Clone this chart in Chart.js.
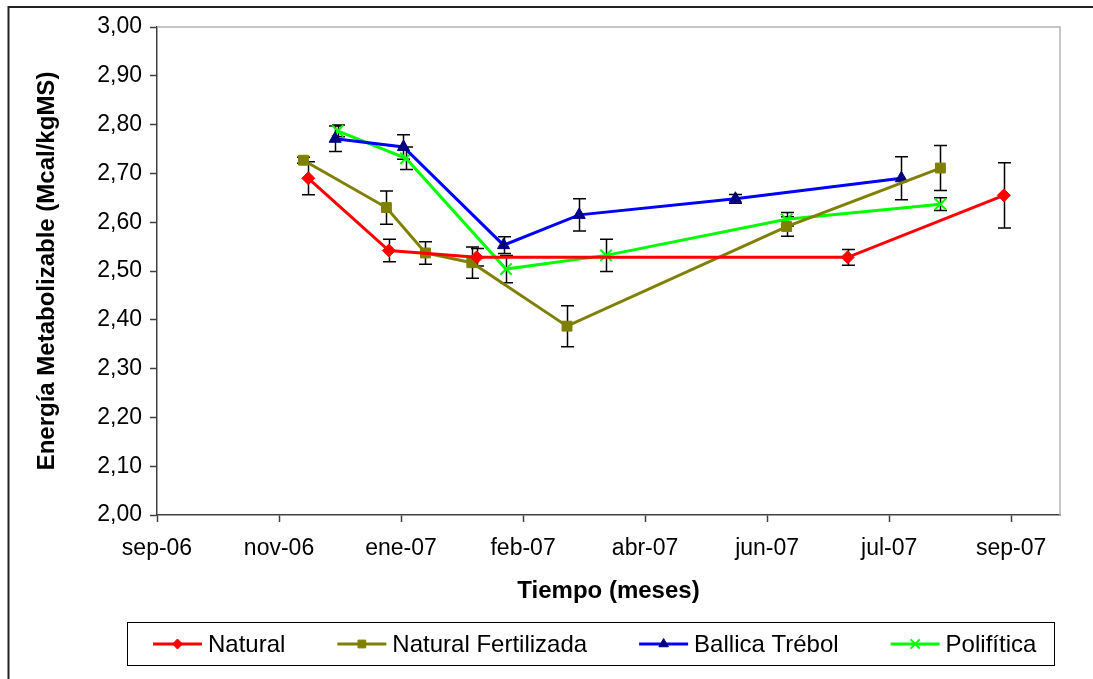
<!DOCTYPE html>
<html lang="es">
<head>
<meta charset="utf-8">
<title>Energía Metabolizable</title>
<script src="https://cdn.jsdelivr.net/npm/chart.js@4/dist/chart.umd.min.js"></script>
<style>
  html, body { margin: 0; padding: 0; background: #fff; }
  #wrap { width: 1093px; height: 679px; position: relative; }
</style>
</head>
<body>
<div id="wrap"><canvas id="grafico" width="1093" height="679"></canvas></div>
<script>
// ── Datos ─────────────────────────────────────
// eje X: días desde el inicio del eje (paso de 50 días)
const tickDias   = [0, 50, 100, 150, 200, 250, 300, 350];
const tickLabels = ['sep-06', 'nov-06', 'ene-07', 'feb-07', 'abr-07', 'jun-07', 'jul-07', 'sep-07'];

const naturalDias = [62, 95, 131, 283, 347];
const naturalEM   = [2.690, 2.542, 2.528, 2.528, 2.655];
const naturalErr  = [0.034, 0.023, 0.018, 0.016, 0.067];

const fertDias = [60, 94, 110, 129, 168, 258, 321];
const fertEM   = [2.727, 2.630, 2.537, 2.517, 2.387, 2.591, 2.711];
const fertErr  = [0.006, 0.034, 0.023, 0.032, 0.042, 0.020, 0.046];

const ballicaDias = [73, 101, 142, 173, 237, 305];
const ballicaEM   = [2.771, 2.754, 2.553, 2.615, 2.648, 2.690];
const ballicaErr  = [0.026, 0.025, 0.017, 0.033, 0.009, 0.044];

const poliDias = [74, 102, 143, 184, 258, 321];
const poliEM   = [2.787, 2.731, 2.504, 2.532, 2.606, 2.637];
const poliErr  = [0.012, 0.023, 0.028, 0.033, 0.014, 0.013];

const FONT = "'Liberation Sans', Arial, sans-serif";

function puntos(dias, vals, errs) {
    return dias.map((d, i) => ({ x: d, y: vals[i], err: errs[i] }));
}

function serie(label, data, color, pointColor, pointStyle, radius) {
    return {
        label, data,
        borderColor: color, backgroundColor: pointColor,
        borderWidth: 3, tension: 0,
        pointStyle, pointRadius: radius, pointHoverRadius: radius,
        pointBackgroundColor: pointColor, pointBorderColor: pointColor,
        pointBorderWidth: pointStyle === 'crossRot' ? 2 : 1
    };
}

const datasets = [
    serie('Natural',             puntos(naturalDias, naturalEM, naturalErr), '#ff0000', '#ff0000', 'rectRot', 6.5),
    serie('Natural Fertilizada', puntos(fertDias, fertEM, fertErr),          '#808000', '#808000', 'rect', 7),
    serie('Ballica Trébol',      puntos(ballicaDias, ballicaEM, ballicaErr), '#0000ff', '#000080', 'triangle', 7),
    serie('Polifítica',          puntos(poliDias, poliEM, poliErr),          '#00ff00', '#00ff00', 'crossRot', 8)
];

// ── Plugins ───────────────────────────────────
const fondo = {
    id: 'fondo',
    beforeDraw(chart) {
        const { ctx, width, height } = chart;
        ctx.save();
        ctx.fillStyle = '#fff';
        ctx.fillRect(0, 0, width, height);
        ctx.restore();
    }
};

const barrasError = {
    id: 'barrasError',
    beforeDatasetsDraw(chart) {
        const { ctx, scales: { x, y } } = chart;
        ctx.save();
        ctx.strokeStyle = '#000';
        ctx.lineWidth = 1.5;
        chart.data.datasets.forEach(ds => {
            ds.data.forEach(p => {
                const px  = Math.round(x.getPixelForValue(p.x)) + 0.5;
                const top = y.getPixelForValue(p.y + p.err);
                const bot = y.getPixelForValue(p.y - p.err);
                ctx.beginPath();
                ctx.moveTo(px, top); ctx.lineTo(px, bot);
                ctx.moveTo(px - 6.5, top); ctx.lineTo(px + 6.5, top);
                ctx.moveTo(px - 6.5, bot); ctx.lineTo(px + 6.5, bot);
                ctx.stroke();
            });
        });
        ctx.restore();
    }
};

const marcos = {
    id: 'marcos',
    afterDraw(chart) {
        const { ctx, chartArea: a } = chart;
        ctx.save();
        // borde gris del área de trazado (arriba y derecha)
        ctx.strokeStyle = '#b4b4b4';
        ctx.lineWidth = 1.5;
        ctx.beginPath();
        ctx.moveTo(a.left, a.top); ctx.lineTo(a.right, a.top); ctx.lineTo(a.right, a.bottom);
        ctx.stroke();
        // borde exterior del gráfico
        ctx.strokeStyle = '#222';
        ctx.lineWidth = 2;
        ctx.strokeRect(8.5, 7, 1100, 700);

        // leyenda
        const lx = 127.5, ly = 622.5, lw = 927, lh = 43;
        ctx.lineWidth = 1;
        ctx.strokeStyle = '#000';
        ctx.strokeRect(lx, ly, lw, lh);
        const cy = ly + lh / 2;
        let cx = 153;
        ctx.font = `24px ${FONT}`;
        ctx.textBaseline = 'middle';
        ctx.textAlign = 'left';
        chart.data.datasets.forEach(ds => {
            ctx.strokeStyle = ds.borderColor;
            ctx.lineWidth = 3;
            ctx.beginPath();
            ctx.moveTo(cx, cy); ctx.lineTo(cx + 49, cy);
            ctx.stroke();
            ctx.fillStyle = ds.pointBackgroundColor;
            ctx.strokeStyle = ds.pointBorderColor;
            ctx.lineWidth = ds.pointBorderWidth;
            Chart.helpers.drawPoint(ctx, {
                pointStyle: ds.pointStyle, radius: ds.pointRadius - 1.5, rotation: 0, borderWidth: ds.pointBorderWidth
            }, cx + 24.5, cy);
            ctx.fillStyle = '#000';
            ctx.fillText(ds.label, cx + 55, cy + 1);
            cx += 55 + ctx.measureText(ds.label).width + 52;
        });
        ctx.restore();
    }
};

// ── Gráfico ───────────────────────────────────
const ejeColor = '#404040';

new Chart(document.getElementById('grafico'), {
    type: 'line',
    data: { datasets },
    plugins: [fondo, barrasError, marcos],
    options: {
        responsive: false,
        animation: false,
        devicePixelRatio: 1,
        layout: { padding: { left: 9, top: 27, right: 33, bottom: 64 } },
        plugins: { legend: { display: false }, tooltip: { enabled: false } },
        scales: {
            x: {
                type: 'linear',
                min: 0, max: 370,
                afterBuildTicks: s => { s.ticks = tickDias.map(v => ({ value: v })); },
                afterFit: s => { s.height = 100; },
                ticks: {
                    autoSkip: false, maxRotation: 0, padding: 13,
                    color: '#000', font: { family: FONT, size: 23 },
                    callback: v => tickLabels[tickDias.indexOf(v)] || ''
                },
                grid: { display: true, drawOnChartArea: false, drawTicks: true, tickLength: 7, tickColor: ejeColor, tickWidth: 1.5 },
                border: { display: true, color: ejeColor, width: 1.5 },
                title: {
                    display: true, text: 'Tiempo (meses)', color: '#000',
                    font: { family: FONT, size: 24, weight: 'bold' },
                    padding: { top: 0, bottom: 9 }
                }
            },
            y: {
                min: 2, max: 3,
                afterFit: s => { s.width = 148; },
                ticks: {
                    stepSize: 0.1, padding: 8,
                    color: '#000', font: { family: FONT, size: 23 },
                    callback: v => v.toFixed(2).replace('.', ',')
                },
                grid: { display: true, drawOnChartArea: false, drawTicks: true, tickLength: 7, tickColor: ejeColor, tickWidth: 1.5 },
                border: { display: true, color: ejeColor, width: 1.5 },
                title: {
                    display: true, text: 'Energía Metabolizable (Mcal/kgMS)', color: '#000',
                    font: { family: FONT, size: 24, weight: 'bold' },
                    padding: { top: 24, bottom: 0 }
                }
            }
        }
    }
});
</script>
</body>
</html>
